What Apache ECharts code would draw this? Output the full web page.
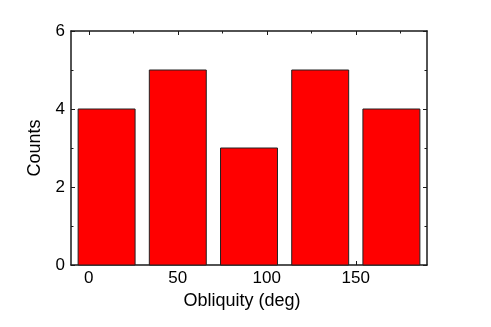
<!DOCTYPE html>
<html>
<head>
<meta charset="utf-8">
<script src="https://cdn.jsdelivr.net/npm/echarts@6/dist/echarts.min.js"></script>
<style>
  html, body { margin: 0; padding: 0; background: #fff; }
  #chart { width: 491px; height: 327px; }
</style>
</head>
<body>
<div id="chart"></div>
<script>
// histogram bins (deg) and counts
const binLeft = [-6, 34, 74, 114, 154];
const binRight = [26, 66, 106, 146, 186];
const counts = [4, 5, 3, 5, 4];
const xMajorTicks = [0, 50, 100, 150];
const xMinorTicks = [25, 75, 125, 175];

const chart = echarts.init(document.getElementById('chart'));
const lineCol = '#1a1a1a';
const font = 'Liberation Sans, Arial, Helvetica, sans-serif';

function xAx(pos, ticks, labels, major) {
  return {
    type: 'value', position: pos, min: -10, max: 190,
    axisLine: { show: major, onZero: false, lineStyle: { color: lineCol, width: 1.5 } },
    axisTick: { show: true, inside: true, length: major ? 4 : 2.5, customValues: ticks,
      lineStyle: { color: lineCol, width: 1 } },
    axisLabel: { show: labels, customValues: ticks, color: '#000', fontSize: 17, fontFamily: font, margin: 5 },
    splitLine: { show: false },
    name: labels ? 'Obliquity (deg)' : '',
    nameLocation: 'middle', nameGap: 26,
    nameTextStyle: { color: '#000', fontSize: 18, fontFamily: font, padding: [0, 14, 0, 0] }
  };
}

function yAx(pos, labels) {
  return {
    type: 'value', position: pos, min: 0, max: 6, interval: 2,
    axisLine: { show: true, onZero: false, lineStyle: { color: lineCol, width: 1.5 } },
    axisTick: { show: true, inside: true, length: 4, lineStyle: { color: lineCol, width: 1 } },
    minorTick: { show: true, splitNumber: 2, length: 2.5, lineStyle: { color: lineCol, width: 1 } },
    axisLabel: { show: labels, color: '#000', fontSize: 17, fontFamily: font, margin: 6 },
    splitLine: { show: false },
    name: labels ? 'Counts' : '',
    nameLocation: 'middle', nameGap: 27,
    nameTextStyle: { color: '#000', fontSize: 18, fontFamily: font }
  };
}

const data = counts.map((c, i) => [binLeft[i], binRight[i], c]);

chart.setOption({
  animation: false,
  grid: { left: 71, top: 31, right: 64, bottom: 62 },
  xAxis: [
    xAx('bottom', xMajorTicks, true, true),
    xAx('bottom', xMinorTicks, false, false),
    xAx('top', xMajorTicks, false, true),
    xAx('top', xMinorTicks, false, false)
  ],
  yAxis: [yAx('left', true), yAx('right', false)],
  series: [{
    type: 'custom',
    xAxisIndex: 0,
    yAxisIndex: 0,
    data: data,
    renderItem: function (params, api) {
      const p0 = api.coord([api.value(0), api.value(2)]);
      const p1 = api.coord([api.value(1), 0]);
      return {
        type: 'rect',
        shape: { x: p0[0], y: p0[1], width: p1[0] - p0[0], height: p1[1] - p0[1] },
        style: { fill: '#ff0000', stroke: '#222', lineWidth: 1 }
      };
    }
  }]
});
</script>
</body>
</html>
